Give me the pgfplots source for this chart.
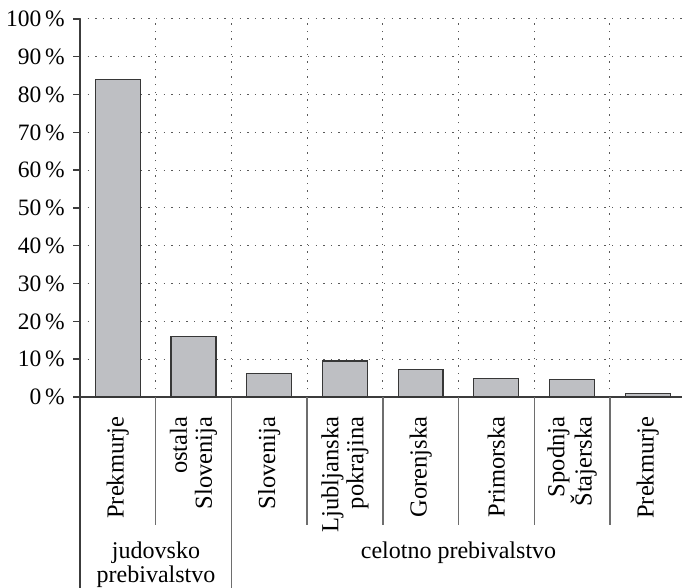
\documentclass[border=0pt]{standalone}
\usepackage{pgfplots}
\pgfplotsset{compat=1.18}
\usepackage{fontspec}
\setmainfont{Liberation Serif}

\definecolor{barfill}{RGB}{190,191,195}
\definecolor{baredge}{RGB}{55,55,55}
\definecolor{axisgray}{RGB}{60,60,60}
\definecolor{sepgray}{RGB}{110,110,110}

\begin{document}
\fontsize{24bp}{24bp}\selectfont
\begin{tikzpicture}[x=1bp,y=1bp]
\useasboundingbox (0,0) rectangle (682,588);
\begin{axis}[
    at={(80bp,191bp)}, anchor=south west,
    scale only axis,
    width=602bp, height=378bp,
    xmin=-0.5, xmax=7.453,
    ymin=0, ymax=100,
    axis x line=bottom, axis y line=left,
    axis line style={-, line width=1.4bp, color=axisgray},
    ytick={0,10,...,100},
    yticklabels={0\,\%,10\,\%,20\,\%,30\,\%,40\,\%,50\,\%,60\,\%,70\,\%,80\,\%,90\,\%,100\,\%},
    yticklabel style={font=\fontsize{23.5bp}{24bp}\selectfont},
    ytick align=outside,
    major tick length=7bp,
    ytick style={line width=1.4bp, color=axisgray},
    xtick={0,...,7},
    xticklabels={Prekmurje, {ostala\\Slovenija}, Slovenija, {Ljubljanska\\pokrajina},
        Gorenjska, Primorska, {Spodnja\\Štajerska}, Prekmurje},
    xticklabel style={yshift=-8bp, rotate=90, anchor=east, align=right,
        font=\fontsize{24.5bp}{25bp}\selectfont},
    xtick style={draw=none},
    minor xtick={0.5,1.5,...,6.5},
    ymajorgrids, xminorgrids,
    major grid style={dash pattern=on 1.3bp off 6.3bp, color=gray!70!black, line width=1bp},
    minor grid style={dash pattern=on 1.3bp off 6.3bp, color=gray!70!black, line width=1bp},
    clip=false,
]
\addplot[ybar, bar width=0.594, fill=barfill, draw=baredge, line width=1.3bp]
    coordinates {(0,84) (1,16) (2,6.3) (3,9.5) (4,7.2) (5,4.9) (6,4.7) (7,1.0)};
\end{axis}
% separators below the category axis
\draw[line width=1.4bp, axisgray] (80,191) -- (80,0);
\draw[line width=1.4bp, sepgray] (231.4,191) -- (231.4,0);
\foreach \sx in {155.7,307.1,382.8,458.5,534.2,609.9}
    \draw[line width=1.4bp, sepgray] (\sx,191) -- (\sx,63);
% group labels
\node[anchor=base, inner sep=0pt] at (156,29) {judovsko};
\node[anchor=base, inner sep=0pt] at (156,5) {prebivalstvo};
\node[anchor=base, inner sep=0pt] at (458.5,29) {celotno prebivalstvo};
\end{tikzpicture}
\end{document}
